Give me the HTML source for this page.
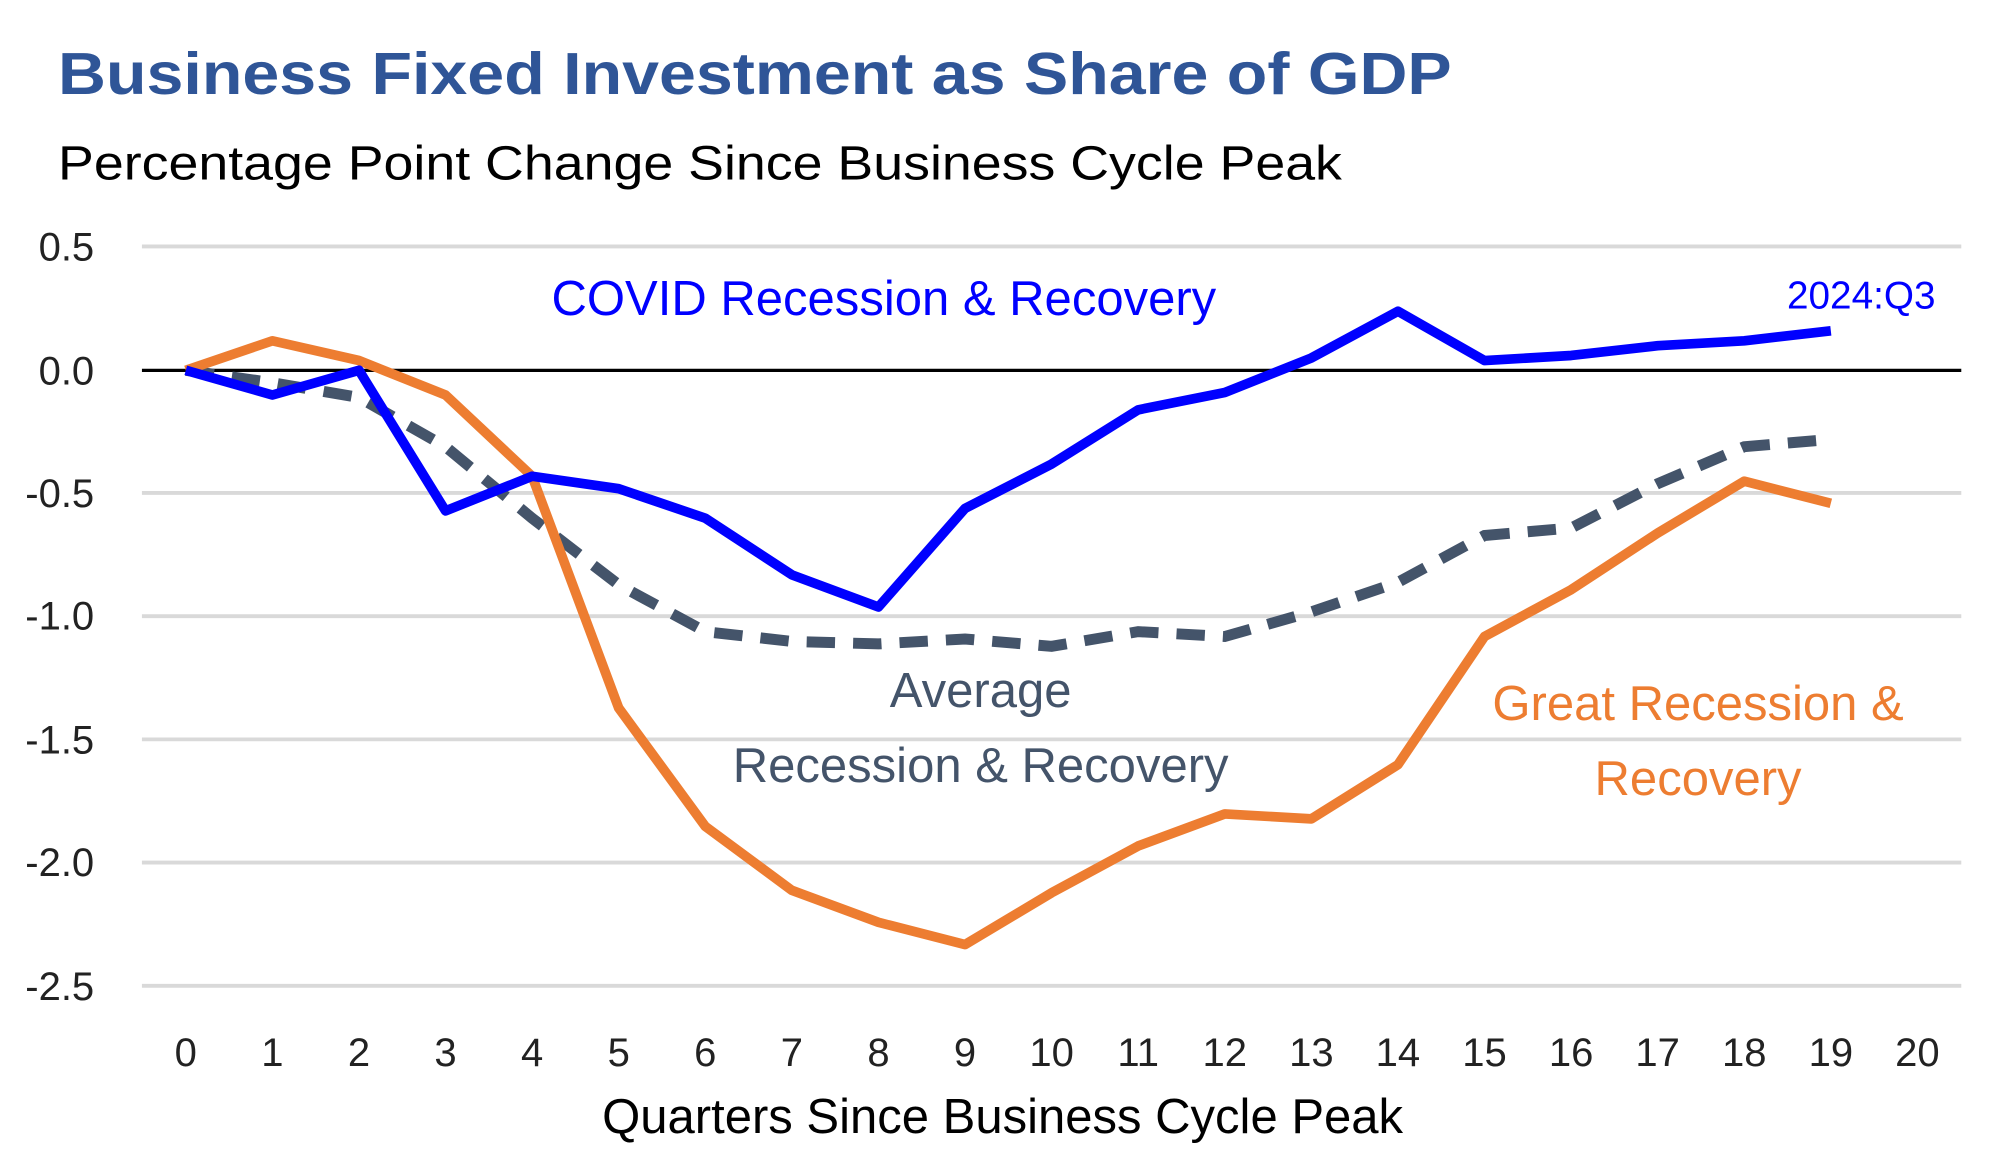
<!DOCTYPE html>
<html><head><meta charset="utf-8"><style>
html,body{margin:0;padding:0;background:#fff;}
svg{display:block;}
text{font-family:"Liberation Sans",sans-serif;}
</style></head><body>
<svg id="s" width="2000" height="1151" viewBox="0 0 1550 892" preserveAspectRatio="none" xmlns="http://www.w3.org/2000/svg">
<rect width="1550" height="892" fill="#fff"/>
<text x="45" y="73" font-size="46" font-weight="bold" fill="#2F5597" textLength="1080" lengthAdjust="spacingAndGlyphs">Business Fixed Investment as Share of GDP</text>
<text x="45" y="139" font-size="37" fill="#000" textLength="995" lengthAdjust="spacingAndGlyphs">Percentage Point Change Since Business Cycle Peak</text>
<g stroke="#d9d9d9" stroke-width="3">
<line x1="110" x2="1520" y1="191" y2="191"/>
<line x1="110" x2="1520" y1="382" y2="382"/>
<line x1="110" x2="1520" y1="477.5" y2="477.5"/>
<line x1="110" x2="1520" y1="573" y2="573"/>
<line x1="110" x2="1520" y1="668.5" y2="668.5"/>
<line x1="110" x2="1520" y1="764" y2="764"/>
</g>
<line x1="110" x2="1520" y1="287" y2="287" stroke="#000" stroke-width="2.5"/>
<g font-size="31" fill="#222" text-anchor="end">
<text x="73" y="202">0.5</text>
<text x="73" y="298">0.0</text>
<text x="73" y="393">-0.5</text>
<text x="73" y="488">-1.0</text>
<text x="73" y="584">-1.5</text>
<text x="73" y="679">-2.0</text>
<text x="73" y="775">-2.5</text>
</g>
<g id="xl" font-size="31" fill="#222" text-anchor="middle"></g>
<text x="777" y="878" font-size="38" fill="#000" text-anchor="middle">Quarters Since Business Cycle Peak</text>
<polyline id="avg" fill="none" stroke="#44546A" stroke-width="8.5" stroke-dasharray="22,14"/>
<polyline id="gr" fill="none" stroke="#ED7D31" stroke-width="7.5" stroke-linejoin="round"/>
<polyline id="cv" fill="none" stroke="#0000FF" stroke-width="7.5" stroke-linejoin="round"/>
<text x="685" y="244" font-size="38" fill="#0000FF" text-anchor="middle">COVID Recession &amp; Recovery</text>
<text x="1500" y="239" font-size="30" fill="#0000FF" text-anchor="end">2024:Q3</text>
<text x="760" y="548" font-size="38" fill="#44546A" text-anchor="middle">Average</text>
<text x="760" y="606" font-size="38" fill="#44546A" text-anchor="middle">Recession &amp; Recovery</text>
<text x="1316" y="558" font-size="38" fill="#ED7D31" text-anchor="middle">Great Recession &amp;</text>
<text x="1316" y="616" font-size="38" fill="#ED7D31" text-anchor="middle">Recovery</text>
</svg>
<script>
var X=function(i){return 144+i*67.1;},Y=function(v){return 287-v*191;};
var cv=[0,-0.1,0,-0.57,-0.43,-0.48,-0.6,-0.83,-0.96,-0.56,-0.38,-0.16,-0.09,0.05,0.24,0.04,0.06,0.1,0.12,0.16];
var gr=[0,0.12,0.04,-0.1,-0.43,-1.37,-1.85,-2.11,-2.24,-2.33,-2.12,-1.93,-1.8,-1.82,-1.6,-1.08,-0.89,-0.66,-0.45,-0.54];
var av=[0,-0.05,-0.11,-0.31,-0.6,-0.87,-1.06,-1.1,-1.11,-1.09,-1.12,-1.06,-1.08,-0.98,-0.86,-0.67,-0.64,-0.46,-0.31,-0.28];
function pts(a){return a.map(function(v,i){return X(i).toFixed(1)+","+Y(v).toFixed(1);}).join(" ");}
document.getElementById("cv").setAttribute("points",pts(cv));
document.getElementById("gr").setAttribute("points",pts(gr));
document.getElementById("avg").setAttribute("points",pts(av));
var g=document.getElementById("xl"),ns="http://www.w3.org/2000/svg";
for(var i=0;i<=20;i++){var t=document.createElementNS(ns,"text");t.setAttribute("x",X(i));t.setAttribute("y",826);t.textContent=i;g.appendChild(t);}
</script>
</body></html>
